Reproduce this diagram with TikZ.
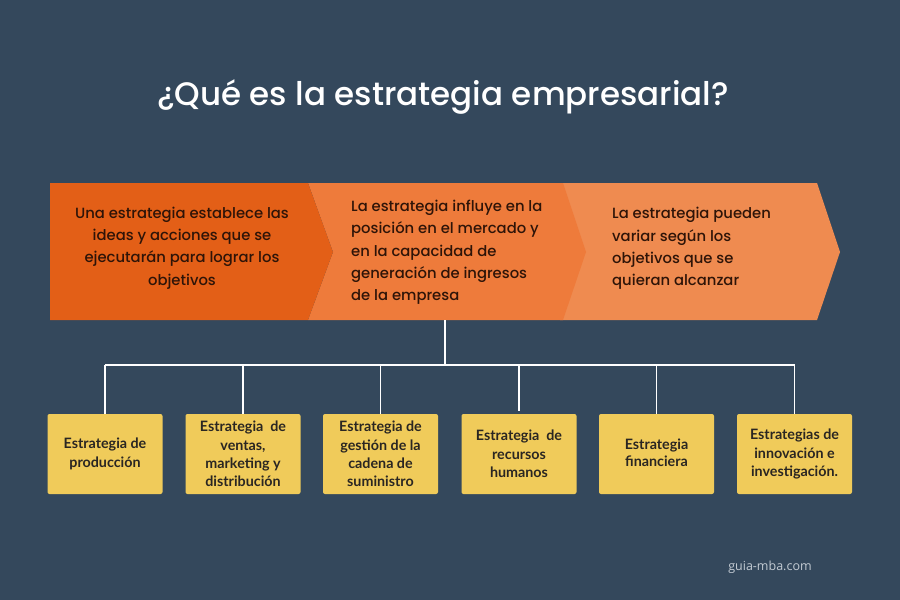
\documentclass[tikz,border=0pt]{standalone}
\usepackage{fontspec}
\setmainfont{Poppins}[UprightFont=* Medium,BoldFont=* SemiBold]
\newfontfamily\boxfont{Lato}
\newfontfamily\webfont{Open Sans}
\definecolor{bg}{HTML}{34485C}
\definecolor{chevA}{HTML}{E35F17}
\definecolor{chevB}{HTML}{EE7B3B}
\definecolor{chevC}{HTML}{EF8B50}
\definecolor{chevtext}{HTML}{2E1408}
\definecolor{boxfill}{HTML}{F0CB5A}
\definecolor{boxtext}{HTML}{2A2622}
\definecolor{webgray}{HTML}{C3CBD3}
\begin{document}
\begin{tikzpicture}[x=1pt,y=-1pt,
  chevtxt/.style={text=chevtext,font=\fontsize{14.8}{22.3}\selectfont,inner sep=0pt},
  leafbox/.style={fill=boxfill,rounded corners=2pt,minimum width=115pt,minimum height=80pt,
    text=boxtext,align=center,inner sep=0pt,font=\boxfont\bfseries\fontsize{14.3}{18.3}\selectfont},
  link/.style={draw=white,line width=1.6pt}]
\useasboundingbox (0,0) rectangle (900,600);
\fill[bg] (0,0) rectangle (900,600);
% title
\node[text=white,font=\fontsize{32.5}{38}\selectfont,inner sep=0pt] (title) at (443,97) {¿Qué es la estrategia empresarial?};
% chevrons
\fill[chevC] (560,183) -- (817,183) -- (840,252) -- (817,320) -- (560,320) -- (585,252) -- cycle;
\fill[chevB] (308,183) -- (563,183) -- (586,252) -- (563,320) -- (308,320) -- (333,252) -- cycle;
\fill[chevA] (50,183) -- (308,183) -- (333,252) -- (308,320) -- (50,320) -- cycle;
\node[chevtxt,align=center] (t1) at (182,248) {Una estrategia establece las\\ideas y acciones que se\\ejecutarán para lograr los\\objetivos};
\node[chevtxt,align=left,anchor=west] (t2) at (351,252.5) {La estrategia influye en la\\posición en el mercado y\\en la capacidad de\\generación de ingresos\\de la empresa};
\node[chevtxt,align=left,anchor=west] (t3) at (612,248.5) {La estrategia pueden\\variar según los\\objetivos que se\\quieran alcanzar};
\coordinate (top) at (445,320);
\coordinate (hub) at (445,365);
% leaf boxes
\node[leafbox] (b1) at (105,454) {Estrategia de\\producción};
\node[leafbox] (b2) at (243,454) {Estrategia\ \ de\\ventas,\\marketing y\\distribución};
\node[leafbox] (b3) at (380.5,454) {Estrategia de\\gestión de la\\cadena de\\suministro};
\node[leafbox] (b4) at (519,454) {Estrategia\ \ de\\recursos\\humanos};
\node[leafbox] (b5) at (656.5,454) {\raisebox{2pt}{\shortstack{Estrategia\\[1pt]financiera}}};
\node[leafbox] (b6) at (794.5,454) {Estrategias de\\innovación e\\investigación.};
% connectors
\draw[link] (top) -- (hub);
\draw[link] (b1.north |- hub) -- (b6.north |- hub);
\foreach \b in {b1,b2,b3,b5,b6} {\draw[link] (\b.north |- hub) -- (\b.north);}
\draw[link] (b4.north |- hub) -- ([yshift=3pt]b4.north);
% watermark
\node[text=webgray,font=\webfont\fontsize{12.5}{14}\selectfont,inner sep=0pt] (web) at (770,567) {guia-mba.com};
\end{tikzpicture}
\end{document}
